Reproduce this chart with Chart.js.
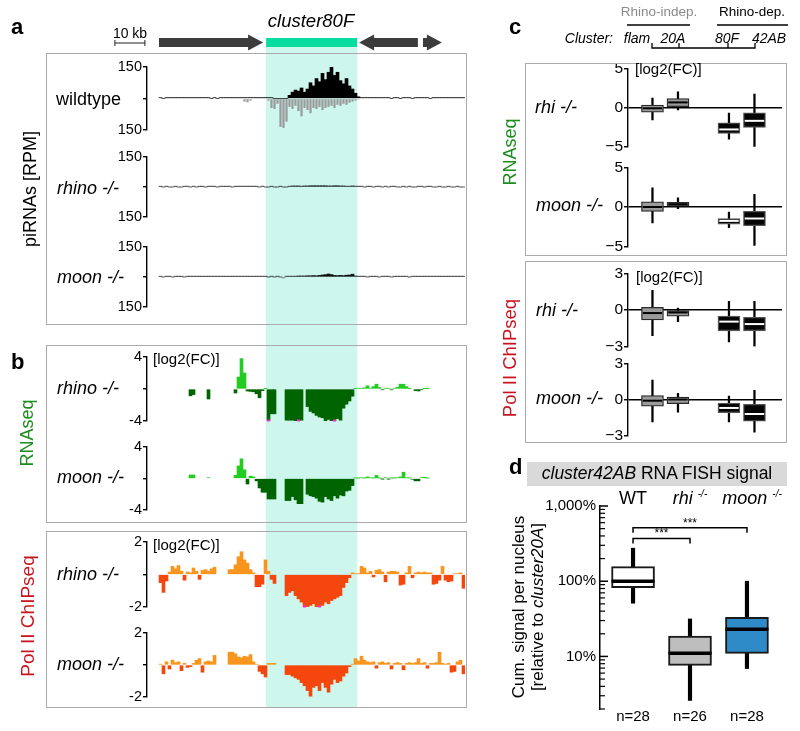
<!DOCTYPE html>
<html>
<head>
<meta charset="utf-8">
<title>cluster80F piRNA, RNAseq and Pol II ChIPseq</title>
<script src="https://cdn.jsdelivr.net/npm/chart.js@4.4.0/dist/chart.umd.min.js"></script>
<style>
  body { margin: 0; background: #fff; }
  #fig { position: relative; width: 800px; height: 731px; overflow: hidden;
         font-family: "Liberation Sans", Arial, Helvetica, sans-serif; color: #000; }
  #fig canvas { position: absolute; z-index: 1; }
  .t { position: absolute; z-index: 2; white-space: nowrap; line-height: 1; transform: translate(0, -50%); }
  .c { transform: translate(-50%, -50%); }
  .r { transform: translate(-100%, -50%); }
  .v { transform: translate(-50%, -50%) rotate(-90deg); }
  .i { font-style: italic; }
  .lbl { font-size: 22px; font-weight: bold; }
  .box { position: absolute; z-index: 2; border: 1.5px solid #aaa; box-sizing: border-box; }
  .sup { font-size: 10px; font-style: italic; position: relative; top: -7px; }
  svg { position: absolute; left: 0; top: 0; z-index: 2; }
</style>
</head>
<body>
<div id="fig">
  <!-- panel frames -->
  <div class="box" style="left:46px;top:53px;width:421px;height:272px"></div>
  <div class="box" style="left:46px;top:345px;width:421px;height:178px"></div>
  <div class="box" style="left:46px;top:531px;width:421px;height:177px"></div>
  <div class="box" style="left:525px;top:63px;width:262px;height:193px"></div>
  <div class="box" style="left:525px;top:261px;width:262px;height:182px"></div>
  <div style="position:absolute;left:527px;top:462px;width:260px;height:24px;background:#d9d9d9"></div>

  <svg width="800" height="731">
    <g stroke="#000" stroke-width="1.3" fill="none">
      <line x1="627" y1="25" x2="690" y2="25"/>
      <line x1="717" y1="25" x2="788" y2="25"/>
      <polyline points="652,43 652,48 755,48 755,43"/>
      <line x1="679" y1="43" x2="679" y2="48"/>
      <line x1="728" y1="43" x2="728" y2="48"/>
    </g>
  </svg>

  <!-- panel a -->
  <div class="t lbl" style="left:11px;top:27px">a</div>
  <div class="t c" style="left:130px;top:33px;font-size:14px">10 kb</div>
  <div class="t c i" style="left:311px;top:21px;font-size:18.5px">cluster80F</div>
  <div class="t" style="left:56px;top:99px;font-size:18px">wildtype</div>
  <div class="t i" style="left:57px;top:188px;font-size:18px">rhino -/-</div>
  <div class="t i" style="left:57px;top:277px;font-size:18px">moon -/-</div>
  <div class="t v" style="left:30px;top:189px;font-size:18px">piRNAs [RPM]</div>

  <!-- panel b -->
  <div class="t lbl" style="left:11px;top:362px">b</div>
  <div class="t" style="left:153px;top:358px;font-size:15px">[log2(FC)]</div>
  <div class="t i" style="left:57px;top:388px;font-size:18px">rhino -/-</div>
  <div class="t i" style="left:57px;top:477px;font-size:18px">moon -/-</div>
  <div class="t v" style="left:27px;top:433px;font-size:18px;color:#1e8c1e">RNAseq</div>
  <div class="t" style="left:153px;top:544px;font-size:15px">[log2(FC)]</div>
  <div class="t i" style="left:57px;top:574px;font-size:18px">rhino -/-</div>
  <div class="t i" style="left:57px;top:664px;font-size:18px">moon -/-</div>
  <div class="t v" style="left:27px;top:616px;font-size:19px;color:#c8141e">Pol II ChIPseq</div>

  <!-- panel c -->
  <div class="t lbl" style="left:509px;top:27px">c</div>
  <div class="t c" style="left:659px;top:12px;font-size:13.5px;color:#8a8a8a">Rhino-indep.</div>
  <div class="t c" style="left:752px;top:12px;font-size:13.5px">Rhino-dep.</div>
  <div class="t r i" style="left:613px;top:38px;font-size:14px">Cluster:</div>
  <div class="t c i" style="left:637px;top:38px;font-size:14px">flam</div>
  <div class="t c i" style="left:673px;top:38px;font-size:14px">20A</div>
  <div class="t c i" style="left:727px;top:38px;font-size:14px">80F</div>
  <div class="t c i" style="left:769px;top:38px;font-size:14px">42AB</div>
  <div class="t" style="left:635px;top:68px;font-size:15px">[log2(FC)]</div>
  <div class="t i" style="left:535px;top:107px;font-size:18px">rhi -/-</div>
  <div class="t i" style="left:536px;top:205px;font-size:18px">moon -/-</div>
  <div class="t v" style="left:510px;top:152px;font-size:18px;color:#1e8c1e">RNAseq</div>
  <div class="t" style="left:636px;top:276px;font-size:15px">[log2(FC)]</div>
  <div class="t i" style="left:536px;top:310px;font-size:18px">rhi -/-</div>
  <div class="t i" style="left:536px;top:398px;font-size:18px">moon -/-</div>
  <div class="t v" style="left:510px;top:358px;font-size:18.5px;color:#c8141e">Pol II ChIPseq</div>

  <!-- panel d -->
  <div class="t lbl" style="left:509px;top:467px">d</div>
  <div class="t c" style="left:657px;top:474px;font-size:17.5px"><i>cluster42AB</i> RNA FISH signal</div>
  <div class="t c" style="left:633px;top:498px;font-size:18px">WT</div>
  <div class="t c" style="left:690px;top:498px;font-size:18px"><i>rhi</i> <span class="sup">-/-</span></div>
  <div class="t c" style="left:752px;top:498px;font-size:18px"><i>moon</i> <span class="sup">-/-</span></div>
  <div class="t v" style="left:518px;top:607px;font-size:17px">Cum. signal per nucleus</div>
  <div class="t v" style="left:537px;top:607px;font-size:17px">[relative to <i>cluster20A</i>]</div>
</div>

<script>
// === DATA ===

// genome browser: 1 kb bins, bin 0 starts at the left end of the tracks
var clusterSpan = [35.7, 66];          // kb, cluster80F
var geneStart = [0, 66.7, 88];         // kb
var geneEnd = [34.7, 86.3, 94.3];
var geneStrand = [1, -1, 1];
var scaleBarKb = [-14.7, -4.7];        // 10 kb

// piRNAs [RPM], sense (+) and antisense (-)
var wtSense = [
  4, 0, 4, 4, 4, 4, 4, 4, 4, 4,
  4, 4, 4, 4, 4, 4, 4, 0, 4, 0,
  4, 4, 4, 4, 4, 4, 4, 4, 4, 4,
  4, 4, 4, 4, 4, 4, 4, 4, 0, 0,
  0, 0, 0, 15, 30, 40, 35, 50, 30, 45,
  75, 60, 95, 80, 120, 90, 125, 150, 110, 125,
  85, 70, 95, 60, 45, 25, 8, 4, 4, 4,
  4, 4, 4, 4, 4, 4, 4, 0, 4, 4,
  0, 4, 4, 4, 0, 4, 4, 4, 4, 4,
  0, 4, 4, 4, 4, 4, 4, 4, 4, 4,
  4, 4
];
var wtAnti = [
  0, 0, 0, 0, 0, 0, 0, 0, 0, 0,
  0, 0, 0, 0, 0, 0, 0, 0, 0, 0,
  0, 0, 0, 0, 0, 0, 0, 0, -15, -18,
  -10, 0, 0, 0, 0, 0, -10, -45, -50, -25,
  -135, -140, -110, -40, -50, -35, -60, -85, -45, -55,
  -70, -45, -50, -40, -55, -45, -40, -35, -45, -30,
  -35, -25, -30, -20, -15, -10, -5, 0, 0, 0,
  0, 0, 0, 0, 0, 0, 0, 0, 0, 0,
  0, 0, 0, 0, 0, 0, 0, 0, 0, 0,
  0, 0, 0, 0, 0, 0, 0, 0, 0, 0,
  0, 0
];
var rhinoPi = [
  4, 0, 4, 0, 0, 4, 0, 0, 4, 4,
  0, 4, 0, 4, 4, 0, 4, 4, 4, 0,
  4, 4, 4, 4, 0, 4, 4, 4, 4, 4,
  4, 4, 4, 0, 4, 0, 0, 4, 0, 0,
  4, 0, 0, 4, 5, 5, 5, 4, 5, 5,
  6, 6, 6, 6, 6, 6, 5, 5, 6, 6,
  5, 5, 4, 4, 5, 4, 4, 4, 0, 4,
  4, 0, 4, 4, 0, 4, 0, 4, 4, 0,
  0, 4, 0, 4, 0, 0, 4, 4, 0, 4,
  4, 0, 0, 4, 0, 0, 4, 0, 0, 4,
  0, 0
];
var moonPi = [
  4, 0, 4, 4, 0, 4, 4, 4, 0, 4,
  4, 4, 4, 4, 4, 4, 4, 4, 4, 4,
  4, 4, 4, 4, 4, 4, 4, 4, 4, 4,
  4, 4, 4, 4, 4, 4, 0, 4, 0, 4,
  0, -5, 4, 4, 4, 4, 5, 5, 5, 6,
  6, 7, 6, 8, 10, 12, 15, 12, 8, 7,
  8, 7, 9, 10, 14, 5, 4, 4, 4, 0,
  4, 4, 4, 0, 4, 4, 4, 0, 4, 4,
  4, 4, 4, 0, 4, 4, 4, 4, 4, 4,
  4, 4, 4, 4, 4, 4, 4, 4, 4, 4,
  4, 4
];

// RNAseq log2(FC) per bin
var rnaRhino = [
  null, null, null, null, null, null, null, null, null, null,
  -0.85, -0.7, null, null, null, null, -1.25, null, null, null,
  null, null, null, null, null, -0.5, 1.5, 3.8, 2.0, -0.25,
  -0.3, -0.35, -0.6, -1.1, -0.2, 0.05, -4.5, -3.1, -3.1, null,
  null, null, -3.9, -3.9, -3.9, -4.0, -4.5, -3.9, null, -2.2,
  -2.8, -3.0, -3.3, -3.5, -3.6, -4.0, -3.8, -4.0, -4.5, -3.7,
  -3.9, -2.4, -1.9, -1.5, -0.9, 0.05, 0.1, 0.1, 0.15, 0.4,
  0.1, 0.3, 0.6, 0.2, -0.1, 0.1, 0.1, -0.1, 0.1, 0.2,
  0.6, 0.6, 0.3, 0.05, null, -0.2, -0.25, -0.1, 0.05, 0.05,
  null, null, null, null, null, null, null, null, null, null,
  null, null
];
var rnaMoon = [
  null, null, null, null, null, null, null, null, null, null,
  0.45, 0.45, null, null, null, null, 0.1, null, null, null,
  null, null, null, null, null, 0.4, 1.6, 2.5, 1.1, -0.7,
  0.3, 0.2, -0.3, -1.2, -1.75, -1.75, -2.6, -2.6, -2.6, null,
  null, null, -2.8, -2.8, -2.3, -2.7, -3.2, -3.2, null, -2.0,
  -2.2, -2.3, -2.5, -2.9, -3.0, -2.3, -2.6, -2.8, -2.2, -2.5,
  -2.1, -2.2, -1.6, -1.5, -0.9, 0.05, 0.05, 0.1, 0.05, 0.2,
  0.1, 0.05, 0.4, 0.05, -0.05, 0.1, -0.05, 0.05, 0.05, 0.1,
  0.2, 0.8, 0.1, 0.05, -0.1, -0.3, -0.3, 0.1, 0.15, 0.05,
  null, null, null, null, null, null, null, null, null, null,
  null, null
];

// Pol II ChIPseq log2(FC) per bin
var polRhino = [
  -0.5, -1.1, -0.4, 0.15, 0.5, 0.35, 0.55, 0.2, -0.35, 0.15,
  0.1, 0.4, 0.2, -0.3, 0.25, 0.3, 0.2, 0.35, 0.45, null,
  null, null, null, 0.3, 0.3, 0.6, 1.1, 1.4, 0.9, 0.7,
  0.3, 0.1, -0.75, -0.75, -0.6, 0.9, 0.2, -0.3, -0.55, null,
  null, null, -1.3, -1.1, -1.0, -1.3, -1.5, -1.7, -2.1, -2.0,
  -1.9, -1.8, -2.0, -2.1, -1.9, -1.7, -1.8, -1.6, -1.5, -1.4,
  -1.3, -0.8, -0.5, -0.2, 0.1, 0.05, 0.05, 0.5, 0.4, 0.1,
  0.2, -0.15, 0.25, 0.3, 0.15, -0.45, 0.15, 0.2, 0.2, 0.15,
  -0.65, -0.6, 0.1, 0.5, -0.2, 0.1, 0.15, 0.1, 0.15, 0.1,
  0.1, -0.6, -0.55, -0.35, 0.5, -0.35, -0.45, -0.4, 0.05, 0.05,
  0.1, -0.85
];
var polMoon = [
  0.05, -0.55, 0.2, -0.25, 0.3, 0.15, 0.2, -0.35, 0.1, -0.15,
  -0.1, 0.1, 0.3, 0.4, -0.45, 0.2, 0.25, 0.2, 0.6, null,
  null, null, null, 0.8, 0.8, 0.7, 0.5, 0.45, 0.55, 0.5,
  0.65, 0.2, 0.05, -0.4, -0.55, -0.75, 0.1, 0.1, 0.1, null,
  null, null, -0.6, -0.6, -0.7, -0.8, -0.9, -1.1, -1.3, -1.6,
  -1.95, -1.4, -1.3, -1.6, -1.1, -1.4, -1.7, -1.2, -0.9, -1.1,
  -1.0, -0.7, -0.5, -0.1, 0.05, 0.4, 0.25, 0.55, 0.3, 0.2,
  0.15, 0.2, -0.2, 0.15, 0.2, 0.1, 0.15, -0.25, 0.1, 0.15,
  0.1, -0.3, 0.1, 0.15, 0.1, 0.15, 0.4, 0.1, 0.15, -0.2,
  0.1, 0.1, 0.15, 0.8, 0.1, 0.05, 0.1, -0.45, -0.4, 0.2,
  0.3, -0.55
];

// panel c: [min, q1, median, q3, max] per cluster, log2(FC)
var cClusters = ['flam', '20A', '80F', '42AB'];
var cSlots = [1, 2, 4, 5];
var rhiRnaBox = [[-1.6, -0.6, -0.1, 0.3, 1.2], [-0.3, 0.1, 0.65, 1.15, 2.0], [-4.05, -3.3, -2.8, -1.95, -0.7], [-5.0, -2.55, -1.7, -0.67, 1.7]];
var moonRnaBox = [[-2.0, -0.55, 0, 0.65, 2.4], [-0.2, 0.1, 0.35, 0.6, 1.15], [-2.6, -2.15, -1.75, -1.45, -0.65], [-4.85, -2.35, -1.45, -0.55, 1.6]];
var rhiPolBox = [[-2.1, -0.82, -0.25, 0.22, 1.6], [-0.95, -0.5, -0.2, -0.05, 0.15], [-2.6, -1.7, -0.95, -0.5, 0.7], [-2.95, -1.7, -1.15, -0.6, 0.7]];
var moonPolBox = [[-1.85, -0.55, -0.1, 0.33, 1.6], [-1.05, -0.35, 0, 0.2, 0.52], [-1.85, -1.1, -0.7, -0.3, 0.28], [-2.7, -1.8, -1.2, -0.4, 0.75]];

// panel d: cluster42AB FISH signal [%], [min, q1, median, q3, max]
var dGroups = ['WT', 'rhi', 'moon'];
var dSlots = [1, 2, 3];
var dN = [28, 26, 28];
var dBox = [[51, 82, 100, 156, 275], [2.6, 7.6, 11, 18.6, 31.5], [6.9, 11, 23, 33, 100]];
var dMinorTicks = [2, 3, 4, 5, 6, 7, 8, 9, 20, 30, 40, 50, 60, 70, 80, 90, 200, 300, 400, 500, 600, 700, 800, 900];
var dMajorTicks = [10, 100, 1000];
var dMajorLabels = ['10%', '100%', '1,000%'];
var sigFrom = [0, 0];
var sigTo = [1, 2];
var sigLevel = [370, 513];
var sigText = ['***', '***'];

// colours
var cFill = ['#9b9b9b', '#9b9b9b', '#050505', '#050505'];
var cEdge = ['#2a2a2a', '#2a2a2a', '#555555', '#555555'];
var cMedian = ['#000000', '#000000', '#ffffff', '#ffffff'];
var dFill = ['#ffffff', '#bebebe', '#2e8bc8'];

// === SETUP ===
Chart.defaults.font.family = '"Liberation Sans", Arial, Helvetica, sans-serif';
Chart.defaults.color = '#000';
Chart.defaults.animation = false;
Chart.defaults.plugins.legend.display = false;
Chart.defaults.plugins.tooltip.enabled = false;

var fig = document.getElementById('fig');
var TRACK_X0 = 159, PX_PER_KB = 3;   // browser tracks: kb 0 sits at x = 159, 3 px per kb
function kbAt(px) { return (px - TRACK_X0) / PX_PER_KB; }

function addCanvas(left, top, w, h) {
  var c = document.createElement('canvas');
  c.width = w; c.height = h;
  c.style.left = left + 'px'; c.style.top = top + 'px';
  fig.appendChild(c);
  return c;
}

function addText(txt, x, y, size) {
  var d = document.createElement('div');
  d.className = 't c';
  d.style.left = x + 'px'; d.style.top = y + 'px'; d.style.fontSize = size + 'px';
  d.textContent = txt;
  fig.appendChild(d);
}

// === PLUGINS ===
var geneTrack = {
  id: 'geneTrack',
  afterDraw: function(chart) {
    var x = chart.scales.x, y = chart.scales.y, ctx = chart.ctx;
    var cy = y.getPixelForValue(42.5), sh = 4.5, hh = 8, head = 15;
    ctx.save();
    ctx.fillStyle = '#3c3c3c';
    for (var i = 0; i < geneStart.length; i++) {
      var a = x.getPixelForValue(geneStart[i]), b = x.getPixelForValue(geneEnd[i]);
      ctx.beginPath();
      if (geneStrand[i] > 0) {
        var hb = b - head;
        ctx.moveTo(a, cy - sh); ctx.lineTo(hb, cy - sh); ctx.lineTo(hb, cy - hh); ctx.lineTo(b, cy);
        ctx.lineTo(hb, cy + hh); ctx.lineTo(hb, cy + sh); ctx.lineTo(a, cy + sh);
      } else {
        var ha = a + head;
        ctx.moveTo(b, cy - sh); ctx.lineTo(ha, cy - sh); ctx.lineTo(ha, cy - hh); ctx.lineTo(a, cy);
        ctx.lineTo(ha, cy + hh); ctx.lineTo(ha, cy + sh); ctx.lineTo(b, cy + sh);
      }
      ctx.closePath();
      ctx.fill();
    }
    // cluster bar
    var c0 = x.getPixelForValue(clusterSpan[0]), c1 = x.getPixelForValue(clusterSpan[1]);
    ctx.fillStyle = '#05dc9f';
    ctx.fillRect(c0, cy - sh, c1 - c0, 2 * sh);
    // scale bar
    var s0 = x.getPixelForValue(scaleBarKb[0]), s1 = x.getPixelForValue(scaleBarKb[1]);
    var sy = y.getPixelForValue(43);
    ctx.strokeStyle = '#222'; ctx.lineWidth = 1;
    ctx.beginPath();
    ctx.moveTo(s0, sy); ctx.lineTo(s1, sy);
    ctx.moveTo(s0, sy - 3); ctx.lineTo(s0, sy + 3);
    ctx.moveTo(s1, sy - 3); ctx.lineTo(s1, sy + 3);
    ctx.stroke();
    ctx.restore();
  }
};

// magenta cap on bars that run past the bottom of the track
var clipMarks = {
  id: 'clipMarks',
  afterDatasetsDraw: function(chart) {
    var y = chart.scales.y, ctx = chart.ctx;
    ctx.save();
    ctx.fillStyle = '#ff2bd6';
    chart.data.datasets.forEach(function(ds, di) {
      chart.getDatasetMeta(di).data.forEach(function(bar, i) {
        if (ds.data[i].y >= y.min) return;
        ctx.fillRect(bar.x - bar.width / 2, y.bottom - 1.5, bar.width, 2);
      });
    });
    ctx.restore();
  }
};

function medianPlugin(summ, slots, colors, width, half) {
  return {
    id: 'medians',
    afterDatasetsDraw: function(chart) {
      var x = chart.scales.x, y = chart.scales.y, ctx = chart.ctx;
      ctx.save();
      ctx.lineWidth = width;
      summ.forEach(function(s, i) {
        var cx = x.getPixelForValue(slots[i]), py = y.getPixelForValue(s[2]);
        ctx.strokeStyle = colors[i];
        ctx.beginPath(); ctx.moveTo(cx - half, py); ctx.lineTo(cx + half, py); ctx.stroke();
      });
      ctx.restore();
    }
  };
}

// === BUILDERS ===
function bars(values, pos, neg, pct) {
  return {
    data: values.map(function(v, i) { return { x: i + 0.5, y: v }; })
                .filter(function(p) { return p.y !== null; }),
    backgroundColor: function(c) { return c.raw && c.raw.y < 0 ? neg : pos; },
    borderWidth: 0, grouped: false,
    barPercentage: pct || 1, categoryPercentage: 1
  };
}

function track(top, bottom, range, datasets, fmt, extra) {
  var pad = 12;
  return new Chart(addCanvas(0, top - pad, 470, bottom - top + 2 * pad), {
    type: 'bar',
    data: { datasets: datasets },
    options: {
      responsive: false,
      layout: { padding: { left: 107, right: 5, top: pad, bottom: pad } },
      scales: {
        x: { type: 'linear', display: false, offset: false, min: kbAt(147), max: kbAt(465) },
        y: {
          min: -range, max: range,
          afterFit: function(s) { s.width = 40; },
          afterBuildTicks: function(s) { s.ticks = [{ value: -range }, { value: 0 }, { value: range }]; },
          border: { color: '#000', width: 1.4 },
          grid: { drawOnChartArea: false, drawTicks: true, tickLength: 4, color: '#000', lineWidth: 1.4 },
          ticks: { autoSkip: false, padding: 1, font: { size: 14.5 }, callback: fmt }
        }
      }
    },
    plugins: extra || []
  });
}

function boxSets(summ, slots, fill, edge, boxW, whiskW, edgeW) {
  return [
    { data: summ.map(function(s, i) { return { x: slots[i], y: [s[1], s[3]] }; }),
      backgroundColor: fill, borderColor: edge, borderWidth: edgeW, borderSkipped: false,
      barThickness: boxW, grouped: false, order: 0 },
    { data: summ.map(function(s, i) { return { x: slots[i], y: [s[0], s[4]] }; }),
      backgroundColor: '#000', borderWidth: 0, barThickness: whiskW, grouped: false, order: 1 }
  ];
}

function cPanel(top, bottom, range, summ) {
  var pad = 10;
  return new Chart(addCanvas(480, top - pad, 310, bottom - top + 2 * pad), {
    type: 'bar',
    data: { datasets: boxSets(summ, cSlots, cFill, cEdge, 22, 1.6, 1.3) },
    options: {
      responsive: false,
      layout: { padding: { left: 118, right: 8, top: pad, bottom: pad } },
      scales: {
        x: { type: 'linear', display: false, offset: false, min: 0.04, max: 6.08 },
        y: {
          min: -range, max: range,
          afterFit: function(s) { s.width = 30; },
          afterBuildTicks: function(s) { s.ticks = [{ value: -range }, { value: 0 }, { value: range }]; },
          border: { color: '#000', width: 1.4 },
          grid: {
            drawTicks: true, tickLength: 4, tickColor: '#000', tickWidth: 1.4, lineWidth: 1.5,
            color: function(c) { return c.tick && c.tick.value === 0 ? '#000' : 'rgba(0,0,0,0)'; }
          },
          ticks: { autoSkip: false, padding: 1, font: { size: 15.5 },
                   callback: function(v) { return v < 0 ? '\u2212' + (-v) : String(v); } }
        }
      }
    },
    plugins: [medianPlugin(summ, cSlots, cMedian, 2, 9.7)]
  });
}

// === PANEL A/B: browser tracks ===
new Chart(addCanvas(0, 47, 470, 661), {
  type: 'bar',
  data: { labels: ['cluster80F'], datasets: [{ data: [clusterSpan], backgroundColor: '#cdf6ec',
          borderWidth: 0, barPercentage: 1, categoryPercentage: 1 }] },
  options: {
    indexAxis: 'y', responsive: false, layout: { padding: 0 },
    scales: { x: { type: 'linear', display: false, min: kbAt(0), max: kbAt(470) }, y: { display: false } }
  }
});

new Chart(addCanvas(0, 0, 470, 60), {
  type: 'scatter',
  data: { datasets: [] },
  options: {
    responsive: false, layout: { padding: 0 },
    scales: { x: { display: false, min: kbAt(0), max: kbAt(470) },
              y: { display: false, min: 0, max: 60, reverse: true } }
  },
  plugins: [geneTrack]
});

var absFmt = function(v) { return v === 0 ? '' : String(Math.abs(v)); };
var sgnFmt = function(v) { return v === 0 ? '' : String(v); };

track(67, 130, 150, [bars(wtSense, '#000', '#000'), bars(wtAnti, '#9a9a9a', '#9a9a9a', 0.75)], absFmt);
track(157, 217, 150, [bars(rhinoPi, '#111', '#777')], absFmt);
track(247, 307, 150, [bars(moonPi, '#111', '#777')], absFmt);

track(357, 421, 4, [bars(rnaRhino, '#22cc22', '#006400')], sgnFmt, [clipMarks]);
track(447, 510, 4, [bars(rnaMoon, '#22cc22', '#006400')], sgnFmt, [clipMarks]);
track(542, 607, 2, [bars(polRhino, '#f7951e', '#f4470e')], sgnFmt, [clipMarks]);
track(633, 697, 2, [bars(polMoon, '#f7951e', '#f4470e')], sgnFmt, [clipMarks]);

// === PANEL C: per-cluster box plots ===
cPanel(68, 147, 5, rhiRnaBox);
cPanel(167, 247, 5, moonRnaBox);
cPanel(273, 347, 3, rhiPolBox);
cPanel(363, 436, 3, moonPolBox);

// === PANEL D: FISH signal, log scale ===
var D_LEFT = 520, D_TOP = 493;
var logTicksIn = {
  id: 'logTicksIn',
  afterDraw: function(chart) {
    var y = chart.scales.y, ctx = chart.ctx;
    ctx.save();
    ctx.strokeStyle = '#000';
    y.ticks.forEach(function(t) {
      var major = dMajorTicks.indexOf(t.value) >= 0;
      var py = y.getPixelForValue(t.value);
      ctx.lineWidth = major ? 1.5 : 1.2;
      ctx.beginPath(); ctx.moveTo(y.right, py); ctx.lineTo(y.right + (major ? 8 : 5), py); ctx.stroke();
    });
    ctx.restore();
  }
};
var sigBrackets = {
  id: 'sigBrackets',
  afterDraw: function(chart) {
    var x = chart.scales.x, y = chart.scales.y, ctx = chart.ctx;
    ctx.save();
    ctx.strokeStyle = '#000'; ctx.lineWidth = 1.5;
    for (var i = 0; i < sigFrom.length; i++) {
      var x1 = x.getPixelForValue(dSlots[sigFrom[i]]), x2 = x.getPixelForValue(dSlots[sigTo[i]]);
      var py = y.getPixelForValue(sigLevel[i]);
      ctx.beginPath();
      ctx.moveTo(x1, py + 5); ctx.lineTo(x1, py); ctx.lineTo(x2, py); ctx.lineTo(x2, py + 5);
      ctx.stroke();
    }
    ctx.restore();
  }
};

var dChart = new Chart(addCanvas(D_LEFT, D_TOP, 270, 229), {
  type: 'bar',
  data: { datasets: boxSets(dBox, dSlots, dFill, '#1a1a1a', 43, 3.5, 2) },
  options: {
    responsive: false,
    layout: { padding: { left: 10, right: 10, top: 10, bottom: 10 } },
    scales: {
      x: { type: 'linear', display: false, offset: false, min: 0.42, max: 3.58 },
      y: {
        type: 'logarithmic', min: 2, max: 1000,
        afterFit: function(s) { s.width = 70; },
        afterBuildTicks: function(s) {
          s.ticks = dMinorTicks.concat(dMajorTicks).sort(function(a, b) { return a - b; })
                               .map(function(v) { return { value: v }; });
        },
        border: { color: '#000', width: 1.5 },
        grid: { drawOnChartArea: false, drawTicks: false },
        ticks: { autoSkip: false, padding: 4, font: { size: 15 },
                 callback: function(v) { var k = dMajorTicks.indexOf(v); return k < 0 ? '' : dMajorLabels[k]; } }
      }
    }
  },
  plugins: [medianPlugin(dBox, dSlots, ['#000', '#000', '#000'], 3.5, 21.5), logTicksIn, sigBrackets]
});

var dx = dChart.scales.x, dy = dChart.scales.y;
dN.forEach(function(n, i) {
  addText('n=' + n, D_LEFT + dx.getPixelForValue(dSlots[i]), 715, 15);
});
sigText.forEach(function(s, i) {
  var mid = (dx.getPixelForValue(dSlots[sigFrom[i]]) + dx.getPixelForValue(dSlots[sigTo[i]])) / 2;
  addText(s, D_LEFT + mid, D_TOP + dy.getPixelForValue(sigLevel[i]) - 5, 12);
});
</script>
</body>
</html>
